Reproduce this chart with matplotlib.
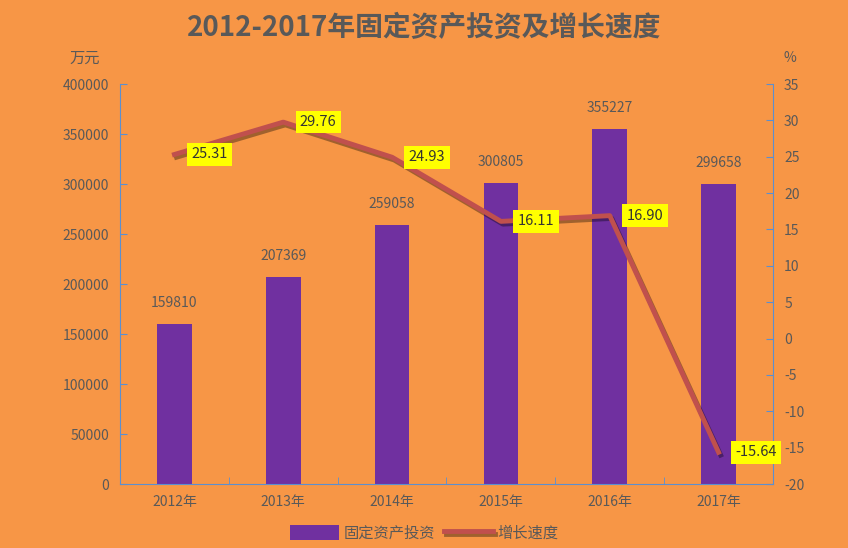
import numpy as np
import matplotlib.pyplot as plt
import matplotlib.patheffects as pe

plt.rcParams['font.family'] = ['Noto Sans CJK SC', 'DejaVu Sans']
plt.rcParams['axes.unicode_minus'] = False

# --- Data ---
years = ['2012年', '2013年', '2014年', '2015年', '2016年', '2017年']
investment = [159810, 207369, 259058, 300805, 355227, 299658]
growth = [25.31, 29.76, 24.93, 16.11, 16.90, -15.64]

BG = '#F79646'
BAR = '#7030A0'
LINE = '#C0504D'
TEXT = '#595959'
SPINE = '#5B8FD0'

fig = plt.figure(figsize=(8.48, 5.48), dpi=100, facecolor=BG)
ax = fig.add_axes([120 / 848, 1 - 484 / 548, 653 / 848, 400 / 548])
ax.set_facecolor(BG)
ax2 = ax.twinx()

x = np.arange(len(years))

# --- Bars ---
bars = ax.bar(x, investment, width=0.32, color=BAR, label='固定资产投资', zorder=2)
for xi, v in zip(x, investment):
    ax.annotate(f'{v}', (xi, v), xytext=(0, 10), textcoords='offset points',
                ha='center', va='bottom', fontsize=10, color=TEXT)

ax.set_xlim(-0.5, len(years) - 0.5)
ax.set_ylim(0, 400000)
ax.set_yticks(np.arange(0, 400001, 50000))
ax.set_xticks(x)
ax.set_xticklabels(years)
ax.set_xticks(np.arange(-0.5, len(years), 1), minor=True)

# --- Line ---
line, = ax2.plot(x, growth, color=LINE, lw=3.5, label='增长速度', zorder=3,
                 path_effects=[pe.SimpleLineShadow(offset=(1.5, -2), alpha=0.35), pe.Normal()])
for xi, v in zip(x, growth):
    ax2.annotate(f'{v:.2f}', (xi, v), xytext=(12, 0), textcoords='offset points',
                 ha='left', va='center', fontsize=10.5, color='#333333',
                 bbox=dict(boxstyle='square,pad=0.3', fc='#FFFF00', ec='none'))
ax2.set_ylim(-20, 35)
ax2.set_yticks(np.arange(-20, 36, 5))

# --- Styling ---
for a in (ax, ax2):
    a.spines['top'].set_visible(False)
    for s in ('left', 'right', 'bottom'):
        a.spines[s].set_color(SPINE)
ax.spines['right'].set_visible(False)
ax2.spines['left'].set_visible(False)
ax2.spines['bottom'].set_visible(False)

ax.tick_params(axis='y', direction='in', length=5, color=SPINE, labelcolor=TEXT, labelsize=10, pad=8)
ax2.tick_params(axis='y', direction='in', length=5, color=SPINE, labelcolor=TEXT, labelsize=10, pad=8)
ax.tick_params(axis='x', which='major', length=0, labelcolor=TEXT, labelsize=10, pad=8)
ax.tick_params(axis='x', which='minor', direction='in', length=5, color=SPINE)

fig.text(85 / 848, 1 - 58 / 548, '万元', ha='center', va='center', fontsize=11, color=TEXT)
fig.text(790 / 848, 1 - 58 / 548, '%', ha='center', va='center', fontsize=10, color=TEXT)
fig.text(0.5, 1 - 28 / 548, '2012-2017年固定资产投资及增长速度', ha='center', va='center',
         fontsize=20, fontweight='bold', color=TEXT)

fig.legend([bars, line], ['固定资产投资', '增长速度'], loc='center', bbox_to_anchor=(0.5, 1 - 533 / 548),
           ncol=2, frameon=False, fontsize=11, labelcolor=TEXT, handlelength=3.2, handleheight=1.2,
           columnspacing=0.6, handletextpad=0.3)

fig.savefig('out.png', dpi=100, facecolor=BG)
